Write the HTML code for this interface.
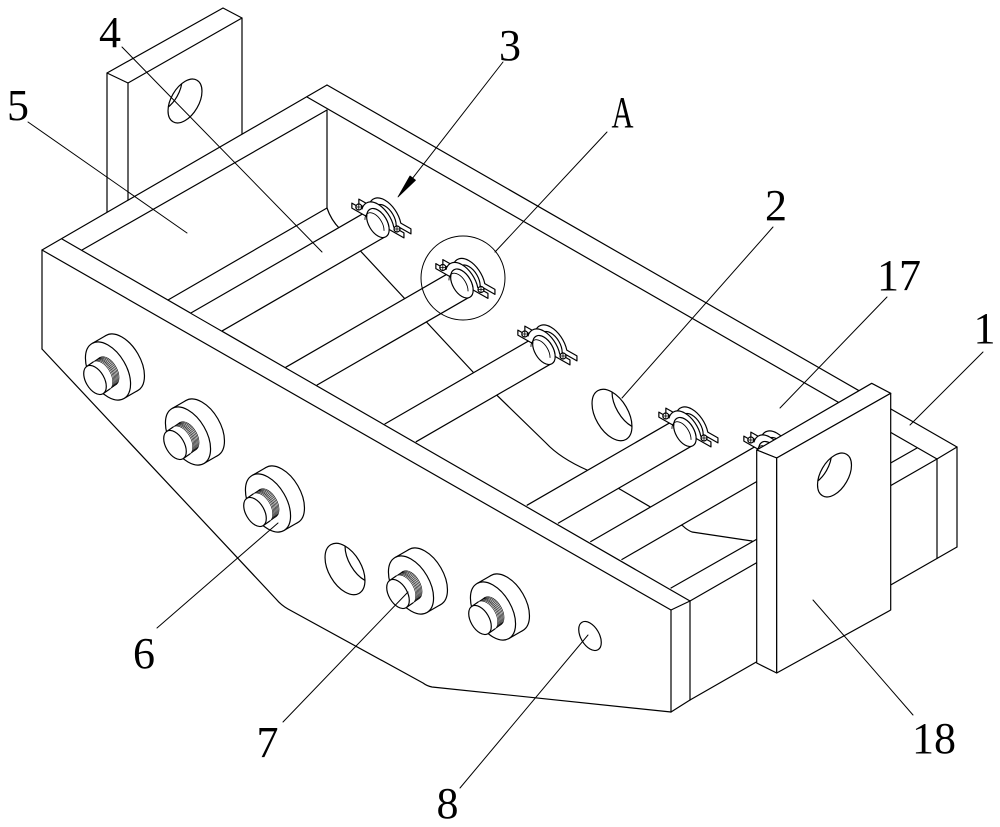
<!DOCTYPE html>
<html><head><meta charset="utf-8"><style>
html,body{margin:0;padding:0;background:#fff;}
svg{display:block}
svg *{vector-effect:non-scaling-stroke}
text{font-family:"Liberation Serif",serif;font-size:44px;fill:#000;stroke:none;text-anchor:middle}
</style></head><body>
<svg width="1000" height="827" viewBox="0 0 1000 827" xmlns="http://www.w3.org/2000/svg">
<defs>
 <clipPath id="cu"><circle r="23" transform="matrix(0.868 0.497 0 1 0 0)"/></clipPath>
 <clipPath id="cv"><circle r="19.6" transform="matrix(0.866 -0.5 0 1 0 0)"/></clipPath>
 <g id="bolt">
  <circle r="26" transform="matrix(0.868 0.497 0 1 13.9 -8)" fill="#fff"/>
  <polygon points="15.9,27.5 29.8,19.5 -2,-35.5 -15.9,-27.5" fill="#fff" stroke="none"/>
  <line x1="15.9" y1="27.5" x2="29.8" y2="19.5"/>
  <line x1="-15.9" y1="-27.5" x2="-2" y2="-35.5"/>
  <circle r="26" transform="matrix(0.868 0.497 0 1 0 0)" fill="#fff"/>
  <g stroke-width="0.6" fill="#fff">
   <circle r="13" transform="matrix(0.868 0.497 0 1 -0.26 0.18)"/>
   <circle r="13" transform="matrix(0.868 0.497 0 1 -1.3 0.9)"/>
   <circle r="13" transform="matrix(0.868 0.497 0 1 -2.34 1.62)"/>
   <circle r="13" transform="matrix(0.868 0.497 0 1 -3.38 2.34)"/>
   <circle r="13" transform="matrix(0.868 0.497 0 1 -4.42 3.06)"/>
   <circle r="13" transform="matrix(0.868 0.497 0 1 -5.46 3.78)"/>
   <circle r="13" transform="matrix(0.868 0.497 0 1 -6.5 4.5)"/>
  </g>
  <polygon points="1.84,18.04 -4.66,22.54 -21.34,-4.54 -14.84,-9.04" fill="#fff" stroke="none"/>
  <line x1="1.84" y1="18.04" x2="-4.66" y2="22.54"/>
  <line x1="-14.84" y1="-9.04" x2="-21.34" y2="-4.54"/>
  <circle r="13" transform="matrix(0.868 0.497 0 1 -13 9)" fill="#fff"/>
 </g>
 <g id="clampB">
  <path d="M-30 0 L-30 -5 L-18.3 -5 A19 19 0 0 1 18.3 -5 L30 -5 L30 0 L13 0 A13 13 0 0 0 -13 0 Z" transform="matrix(0.868 0.497 0 1 13.9 -8)" fill="#fff"/>
 </g>
 <g id="clampF">
  <circle r="13" transform="matrix(0.868 0.497 0 1 6.9 -4)" fill="#fff"/>
  <path d="M-30 0 L-30 -5 L-18.3 -5 A19 19 0 0 1 18.3 -5 L30 -5 L30 0 L13 0 A13 13 0 0 0 -13 0 Z" transform="matrix(0.868 0.497 0 1 6.9 -4)" fill="#fff"/>
  <path d="M-11 0 A11 11 0 0 1 11 0" transform="matrix(0.868 0.497 0 1 3.5 -2)" stroke-width="0.9"/>
  <circle cx="-12.2" cy="-20" r="3" fill="#fff"/>
  <path d="M-15.2 -20 h6 M-12.2 -23 v6" stroke-width="0.8"/>
  <circle cx="26" cy="2" r="3" fill="#fff"/>
  <path d="M23 2 h6 M26 -1 v6" stroke-width="0.8"/>
 </g>
</defs>

<g fill="none" stroke="#000" stroke-width="1.2" stroke-linejoin="round" stroke-linecap="round">

 <!-- left plate -->
 <polygon points="107,73 223,8 242,18 128,83" fill="#fff"/>
 <line x1="128" y1="83" x2="128" y2="200"/>
 <line x1="242" y1="18" x2="242" y2="134"/>
 <line x1="107" y1="73" x2="107" y2="212"/>
 <g transform="translate(185,101)">
  <circle r="19.6" transform="matrix(0.866 -0.5 0 1 0 0)" fill="#fff"/>
  <g clip-path="url(#cv)"><circle r="19.6" transform="matrix(0.866 -0.5 0 1 -20 -11.4)"/></g>
 </g>

 <!-- tray edges -->
 <line x1="42" y1="250" x2="327" y2="85"/>
 <line x1="327" y1="85" x2="957" y2="447"/>
 <line x1="307" y1="97" x2="937" y2="459"/>
 <line x1="82" y1="250" x2="327" y2="110"/>
 <line x1="327" y1="110" x2="327" y2="208"/>
 <line x1="327" y1="208" x2="168" y2="300"/>
 <path d="M327,208 Q331,220 340,229 L473,372 L546,443 Q560,458 587,470 L683,526 Q687,530 692,532 L752,541"/>
 <line x1="62" y1="239" x2="690" y2="601"/>
 <line x1="42" y1="250" x2="671" y2="610"/>
 <line x1="42" y1="250" x2="42" y2="349"/>
 <path d="M42,349 L276,599 Q281,605 288,609 L423,683 Q427,686 432,687 L671,712"/>
 <line x1="671" y1="610" x2="671" y2="712"/>
 <line x1="671" y1="610" x2="690" y2="601"/>
 <line x1="690" y1="601" x2="690" y2="700"/>
 <line x1="671" y1="712" x2="690" y2="700"/>
 <line x1="690" y1="700" x2="957" y2="547"/>
 <line x1="690" y1="601" x2="937" y2="459"/>
 <line x1="671" y1="588" x2="917" y2="448"/>
 <line x1="937" y1="459" x2="957" y2="447"/>
 <line x1="937" y1="459" x2="937" y2="558.5"/>
 <line x1="957" y1="447" x2="957" y2="547"/>

 <!-- hole 2 on back wall -->
 <g transform="translate(612,415)">
  <circle r="23" transform="matrix(0.868 0.497 0 1 0 0)" fill="#fff"/>
  <g clip-path="url(#cu)"><circle r="23" transform="matrix(0.868 0.497 0 1 20 -11.5)"/></g>
 </g>

 <!-- clamp backs -->
 <use href="#clampB" transform="translate(371,227)"/>
 <use href="#clampB" transform="translate(455,287.5)"/>
 <use href="#clampB" transform="translate(537,354)"/>
 <use href="#clampB" transform="translate(678,436)"/>
 <use href="#clampB" transform="translate(763,460)"/>

 <!-- tubes -->
 <polygon points="191.1,312.9 370.1,209.55 385.7,236.45 222.3,330.8" fill="#fff" stroke="none"/>
 <line x1="191.1" y1="312.9" x2="370.1" y2="209.55"/><line x1="222.3" y1="330.8" x2="385.7" y2="236.45"/>
 <polygon points="285.9,367.2 454.1,270.05 469.7,296.95 317.1,385" fill="#fff" stroke="none"/>
 <line x1="285.9" y1="367.2" x2="454.1" y2="270.05"/><line x1="317.1" y1="385" x2="469.7" y2="296.95"/>
 <polygon points="385,423.9 536.1,336.55 551.7,363.45 416.2,441.7" fill="#fff" stroke="none"/>
 <line x1="385" y1="423.9" x2="536.1" y2="336.55"/><line x1="416.2" y1="441.7" x2="551.7" y2="363.45"/>
 <polygon points="527.1,505.2 677.1,418.55 692.7,445.45 558.3,523.1" fill="#fff" stroke="none"/>
 <line x1="527.1" y1="505.2" x2="677.1" y2="418.55"/><line x1="558.3" y1="523.1" x2="692.7" y2="445.45"/>
 <polygon points="590.7,541.6 762.1,442.55 777.7,469.45 621.9,559.5" fill="#fff" stroke="none"/>
 <line x1="590.7" y1="541.6" x2="762.1" y2="442.55"/><line x1="621.9" y1="559.5" x2="777.7" y2="469.45"/>

 <!-- clamp fronts -->
 <use href="#clampF" transform="translate(371,227)"/>
 <use href="#clampF" transform="translate(455,287.5)"/>
 <use href="#clampF" transform="translate(537,354)"/>
 <use href="#clampF" transform="translate(678,436)"/>
 <use href="#clampF" transform="translate(763,460)"/>

 <!-- plate 18 -->
 <polygon points="756.7,450 871.7,383.3 890.7,393.3 776.7,458" fill="#fff"/>
 <polygon points="756.7,450 776.7,458 776.7,673 756.7,663" fill="#fff"/>
 <polygon points="776.7,458 890.7,393.3 890.7,610 776.7,673" fill="#fff"/>
 <g transform="translate(834.5,475)">
  <circle r="19.6" transform="matrix(0.866 -0.5 0 1 0 0)" fill="#fff"/>
  <g clip-path="url(#cv)"><circle r="19.6" transform="matrix(0.866 -0.5 0 1 -20 -11.4)"/></g>
 </g>

 <!-- bolts and holes on front wall -->
 <use href="#bolt" transform="translate(108,371)"/>
 <use href="#bolt" transform="translate(188,436)"/>
 <use href="#bolt" transform="translate(268,503)"/>
 <use href="#bolt" transform="translate(411,585)"/>
 <use href="#bolt" transform="translate(493,611)"/>
 <g transform="translate(345,569)">
  <circle r="23" transform="matrix(0.868 0.497 0 1 0 0)" fill="#fff"/>
  <g clip-path="url(#cu)"><circle r="23" transform="matrix(0.868 0.497 0 1 20 -11.5)"/></g>
 </g>
 <circle r="13" transform="matrix(0.868 0.497 0 1 590 636)" fill="#fff"/>

 <!-- detail circle A -->
 <circle cx="463" cy="278" r="42" stroke-width="1"/>

 <!-- leaders -->
 <g stroke-width="1">
  <line x1="28" y1="122" x2="187" y2="233"/>
  <line x1="122" y1="47" x2="322" y2="252"/>
  <line x1="503" y1="62" x2="412.7" y2="178.1"/>
  <line x1="607" y1="132" x2="495" y2="252"/>
  <line x1="773" y1="227" x2="622" y2="398"/>
  <line x1="887" y1="297" x2="780" y2="408"/>
  <line x1="983" y1="352" x2="910" y2="425"/>
  <line x1="813" y1="600" x2="913" y2="715"/>
  <line x1="157" y1="628" x2="278" y2="523"/>
  <line x1="283" y1="722" x2="408" y2="592"/>
  <line x1="460" y1="788" x2="588" y2="635"/>
 </g>
 <polygon points="398,197 415.5,180.2 410,176" fill="#000" stroke="#000" stroke-width="0.8"/>

 <!-- labels -->
 <text x="110" y="47">4</text>
 <text x="18" y="120">5</text>
 <text x="510" y="60">3</text>
 <text x="622.5" y="127" textLength="22" lengthAdjust="spacingAndGlyphs">A</text>
 <text x="776" y="220">2</text>
 <text x="899" y="290">17</text>
 <text x="984.5" y="343">1</text>
 <text x="144" y="668">6</text>
 <text x="267.5" y="757">7</text>
 <text x="447.5" y="818">8</text>
 <text x="934" y="753">18</text>
</g>
</svg>
</body></html>
